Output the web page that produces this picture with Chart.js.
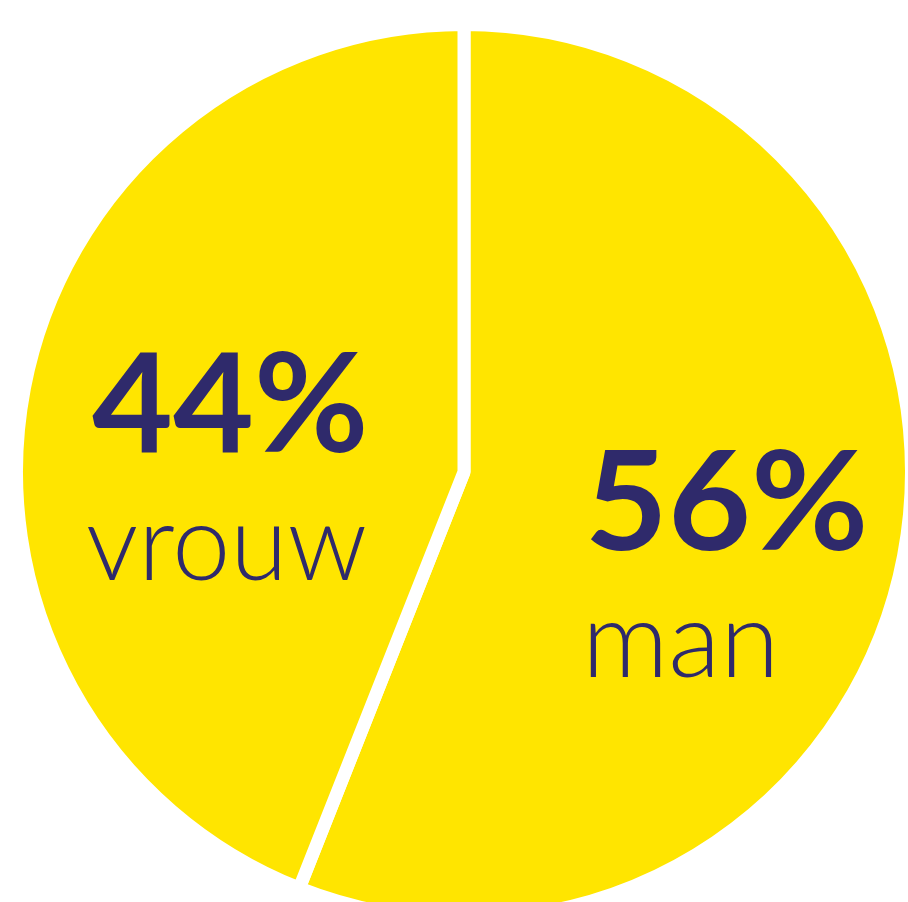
<!DOCTYPE html>
<html>
<head>
<meta charset="utf-8">
<script src="https://cdn.jsdelivr.net/npm/chart.js@4.4.1/dist/chart.umd.min.js"></script>
<style>
  html, body { margin: 0; padding: 0; background: #fff; width: 908px; height: 902px; overflow: hidden; }
  #wrap { position: absolute; left: 10px; top: 18px; width: 908px; height: 908px; }
</style>
</head>
<body>
<div id="wrap"><canvas id="pie"></canvas></div>
<script>
// data
const categories = ['man', 'vrouw'];
const shares = [56, 44];
const percentLabels = ['56%', '44%'];

const yellow = '#FFE500';
const navy = '#2F2A6B';

// draw text scaled horizontally to a target ink width
function drawFit(ctx, text, x, baseline, font, width) {
  ctx.font = font;
  const m = ctx.measureText(text);
  const inkW = m.actualBoundingBoxLeft + m.actualBoundingBoxRight;
  const sx = width / inkW;
  ctx.save();
  ctx.translate(x, baseline);
  ctx.scale(sx, 1);
  ctx.fillText(text, m.actualBoundingBoxLeft, 0);
  ctx.restore();
}

// labels placed relative to the pie centre
const labelPlugin = {
  id: 'sliceLabels',
  afterDatasetsDraw(chart) {
    const ctx = chart.ctx;
    const arc = chart.getDatasetMeta(0).data[0];
    const cx = arc.x, cy = arc.y;
    ctx.save();
    ctx.fillStyle = navy;
    ctx.textBaseline = 'alphabetic';
    ctx.textAlign = 'left';
    // man (right)
    drawFit(ctx, percentLabels[0], cx + 126, cy + 78, 'bold 137px Lato', 273);
    drawFit(ctx, categories[0], cx + 126, cy + 205, '300 106px Lato', 182);
    // vrouw (left)
    drawFit(ctx, percentLabels[1], cx - 372, cy - 20, 'bold 137px Lato', 271);
    drawFit(ctx, categories[1], cx - 376, cy + 108, '300 106px Lato', 277);
    ctx.restore();
  }
};

new Chart(document.getElementById('pie'), {
  type: 'pie',
  data: {
    labels: categories,
    datasets: [{
      data: shares,
      backgroundColor: [yellow, yellow],
      borderColor: '#ffffff',
      borderWidth: 13
    }]
  },
  options: {
    responsive: true,
    maintainAspectRatio: false,
    animation: false,
    layout: { padding: 0 },
    plugins: {
      legend: { display: false },
      tooltip: { enabled: false }
    }
  },
  plugins: [labelPlugin]
});
</script>
</body>
</html>
